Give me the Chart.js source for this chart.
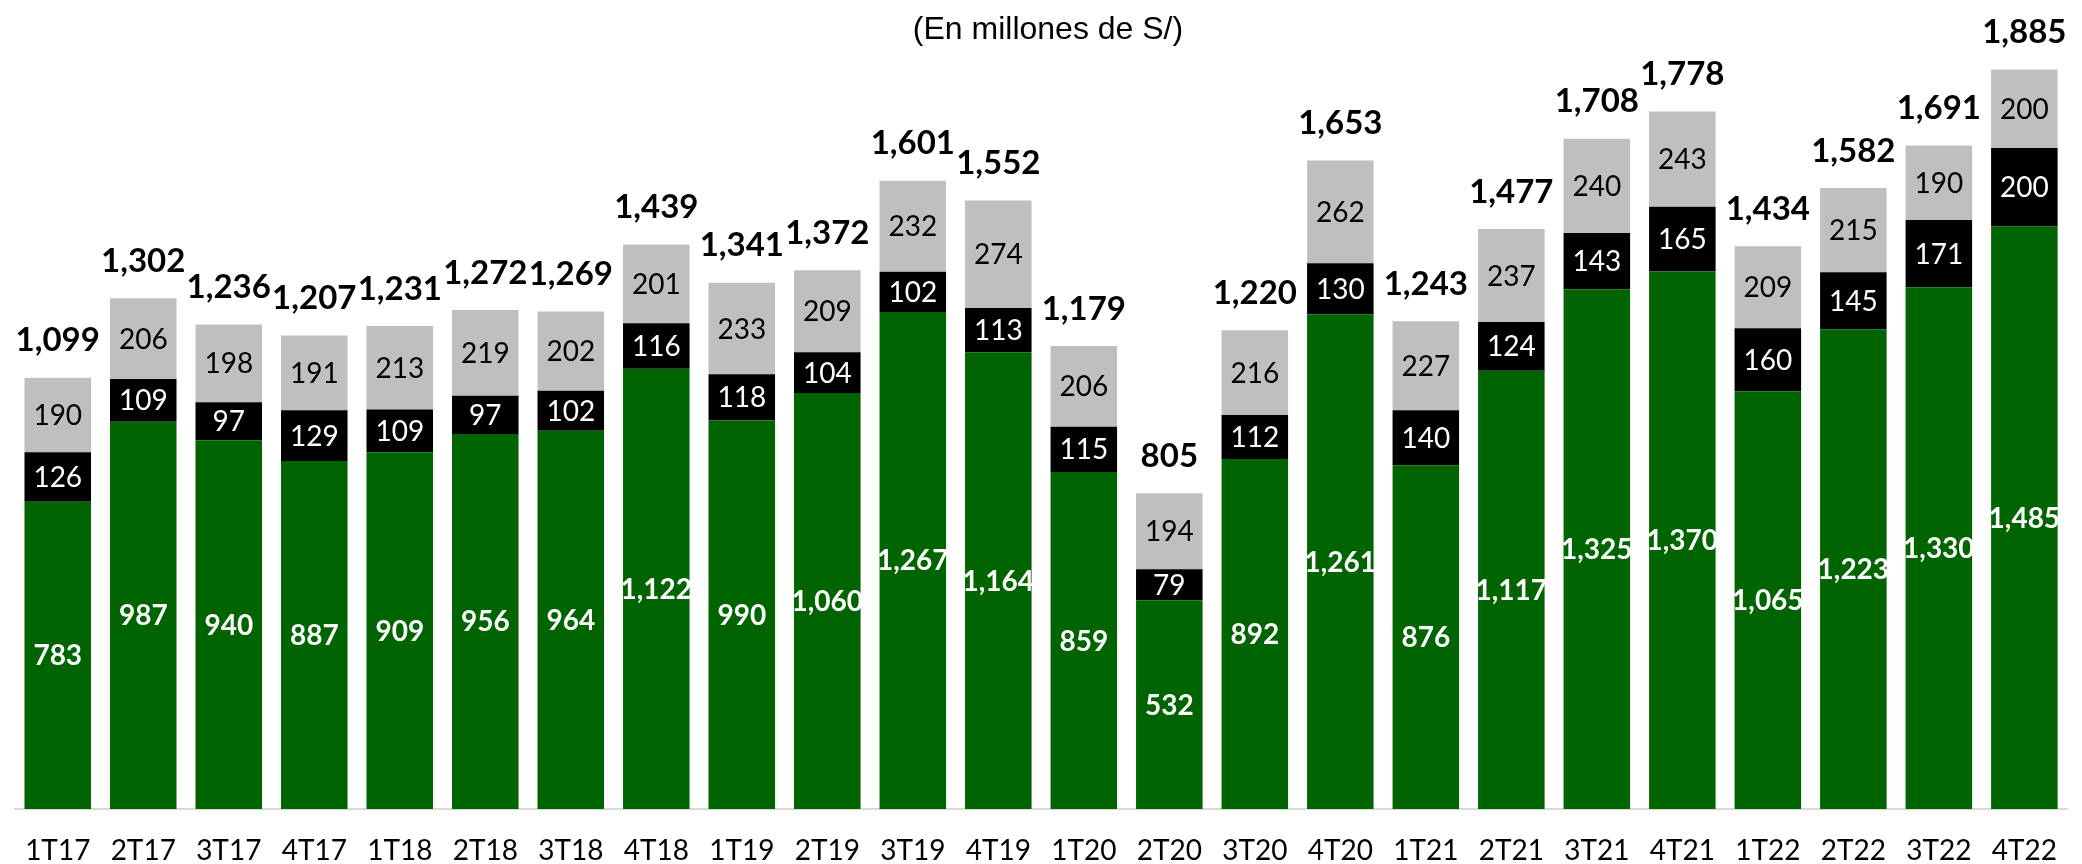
<!DOCTYPE html>
<html>
<head>
<meta charset="utf-8">
<script src="https://cdn.jsdelivr.net/npm/chart.js@4"></script>
<style>
html,body{margin:0;padding:0;background:#fff;}
canvas{display:block;}
</style>
</head>
<body>
<canvas id="c" width="2082" height="864"></canvas>
<script>
const categories = ['1T17','2T17','3T17','4T17','1T18','2T18','3T18','4T18','1T19','2T19','3T19','4T19','1T20','2T20','3T20','4T20','1T21','2T21','3T21','4T21','1T22','2T22','3T22','4T22'];
const greenValues = [783,987,940,887,909,956,964,1122,990,1060,1267,1164,859,532,892,1261,876,1117,1325,1370,1065,1223,1330,1485];
const blackValues = [126,109,97,129,109,97,102,116,118,104,102,113,115,79,112,130,140,124,143,165,160,145,171,200];
const grayValues  = [190,206,198,191,213,219,202,201,233,209,232,274,206,194,216,262,227,237,240,243,209,215,190,200];
const totals      = [1099,1302,1236,1207,1231,1272,1269,1439,1341,1372,1601,1552,1179,805,1220,1653,1243,1477,1708,1778,1434,1582,1691,1885];
const titleText = '(En millones de S/)';

const fmt = v => v.toLocaleString('en-US');
const segFonts = ['bold 28px Lato','28px Lato','28px Lato'];
const segColors = ['#ffffff','#ffffff','#000000'];

const labelPlugin = {
  id: 'segLabels',
  afterDatasetsDraw(chart) {
    const ctx = chart.ctx;
    ctx.save();
    ctx.textAlign = 'center';
    ctx.textBaseline = 'middle';
    chart.data.datasets.forEach((ds, i) => {
      const meta = chart.getDatasetMeta(i);
      meta.data.forEach((bar, j) => {
        const p = bar.getProps(['x','y','base'], true);
        ctx.font = segFonts[i];
        ctx.fillStyle = segColors[i];
        ctx.fillText(fmt(ds.data[j]), p.x, (p.y + p.base) / 2 + 1);
      });
    });
    const topMeta = chart.getDatasetMeta(chart.data.datasets.length - 1);
    ctx.font = 'bold 33px Lato';
    ctx.fillStyle = '#000';
    topMeta.data.forEach((bar, j) => {
      ctx.fillText(fmt(totals[j]), bar.x, bar.y - 37);
    });
    ctx.restore();
  }
};

new Chart(document.getElementById('c'), {
  type: 'bar',
  data: {
    labels: categories,
    datasets: [
      { label: 'A', data: greenValues, backgroundColor: '#006400', stack: 's', barPercentage: 0.778, categoryPercentage: 1 },
      { label: 'B', data: blackValues, backgroundColor: '#000000', stack: 's', barPercentage: 0.778, categoryPercentage: 1 },
      { label: 'C', data: grayValues, backgroundColor: '#bfbfbf', stack: 's', barPercentage: 0.778, categoryPercentage: 1 }
    ]
  },
  options: {
    responsive: false,
    animation: false,
    devicePixelRatio: 1,
    layout: { padding: { left: 15, right: 1, top: 0, bottom: 0 } },
    plugins: {
      legend: { display: false },
      tooltip: { enabled: false },
      title: {
        display: true,
        text: titleText,
        color: '#000',
        font: { family: "'Liberation Sans', Arial, sans-serif", size: 32, weight: 'normal' },
        padding: { top: 11, bottom: 0 }
      }
    },
    scales: {
      x: {
        stacked: true,
        grid: { display: false, drawTicks: false },
        border: { display: true, color: '#d9d9d9', width: 2 },
        ticks: { color: '#000', font: { family: 'Lato', size: 28 }, padding: 25, maxRotation: 0, autoSkip: false },
        afterFit(scale) { scale.height = 55; }
      },
      y: {
        stacked: true,
        display: false,
        min: 0,
        max: 1936
      }
    }
  },
  plugins: [labelPlugin]
});
</script>
</body>
</html>
